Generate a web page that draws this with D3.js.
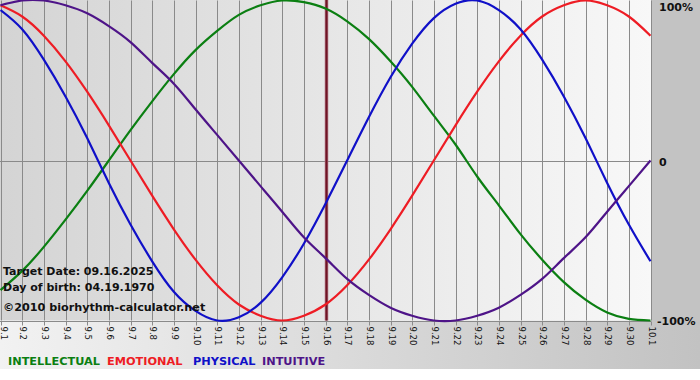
<!DOCTYPE html>
<html><head><meta charset="utf-8">
<script src="https://cdn.jsdelivr.net/npm/d3@7"></script>
<style>html,body{margin:0;padding:0;background:#fff;}svg{display:block;}</style>
</head><body>
<svg id="chart" width="700" height="380"></svg>
<script>
// ---- data ----
const dayLabels = ["9.1","9.2","9.3","9.4","9.5","9.6","9.7","9.8","9.9","9.10","9.11","9.12","9.13","9.14","9.15","9.16","9.17","9.18","9.19","9.20","9.21","9.22","9.23","9.24","9.25","9.26","9.27","9.28","9.29","9.30","10.1"];
const intellectual = [-0.81,-0.69,-0.54,-0.37,-0.19,0.00,0.19,0.37,0.54,0.69,0.81,0.91,0.97,1.00,0.99,0.95,0.87,0.76,0.62,0.46,0.28,0.10,-0.10,-0.28,-0.46,-0.62,-0.76,-0.87,-0.95,-0.99,-1.00];
const emotional    = [0.97,0.90,0.78,0.62,0.43,0.22,0.00,-0.22,-0.43,-0.62,-0.78,-0.90,-0.97,-1.00,-0.97,-0.90,-0.78,-0.62,-0.43,-0.22,0.00,0.22,0.43,0.62,0.78,0.90,0.97,1.00,0.97,0.90,0.78];
const physical     = [0.94,0.82,0.63,0.40,0.14,-0.14,-0.40,-0.63,-0.82,-0.94,-1.00,-0.98,-0.89,-0.73,-0.52,-0.27,0.00,0.27,0.52,0.73,0.89,0.98,1.00,0.94,0.82,0.63,0.40,0.14,-0.14,-0.40,-0.63];
const intuitive    = [0.97,1.00,1.00,0.97,0.92,0.84,0.74,0.61,0.48,0.32,0.16,0.00,-0.16,-0.32,-0.48,-0.61,-0.74,-0.84,-0.92,-0.97,-1.00,-1.00,-0.97,-0.92,-0.84,-0.74,-0.61,-0.48,-0.32,-0.16,0.00];
const yTickValues = [1, 0, -1];
const yTickLabels = ["100%", "0", "-100%"];
const targetDay = "9.16";
const infoLines = ["Target Date: 09.16.2025", "Day of birth: 04.19.1970"];
const copyright = "©2010 biorhythm-calculator.net";
const seriesNames = ["INTELLECTUAL", "EMOTIONAL", "PHYSICAL", "INTUITIVE"];

// ---- drawing ----
const colors = ["#0b7f12", "#ee1c24", "#1010c8", "#4e1488"];
const seriesData = [intellectual, emotional, physical, intuitive];

const svg = d3.select("#chart");
const W = 700, H = 380;
const plot = {left: 0.5, right: 650.5, top: 0.5, bottom: 320.5};

const defs = svg.append("defs");
const g1 = defs.append("linearGradient").attr("id","plotBg").attr("x1","0").attr("x2","1").attr("y1","0").attr("y2","0");
g1.append("stop").attr("offset","0").attr("stop-color","#d4d4d4");
g1.append("stop").attr("offset","1").attr("stop-color","#f8f8f8");
const g2 = defs.append("linearGradient").attr("id","bandBg").attr("x1","0").attr("x2","1").attr("y1","0").attr("y2","0");
g2.append("stop").attr("offset","0").attr("stop-color","#f2f2f2");
g2.append("stop").attr("offset","1").attr("stop-color","#c2c2c2");

svg.append("rect").attr("x",0).attr("y",0).attr("width",W).attr("height",H).attr("fill","#ffffff");
svg.append("rect").attr("x",0).attr("y",plot.bottom).attr("width",W).attr("height",369-plot.bottom).attr("fill","url(#bandBg)");
svg.append("rect").attr("x",651).attr("y",0).attr("width",W-651).attr("height",plot.bottom+1).attr("fill","#c3c3c3");
svg.append("rect").attr("x",0).attr("y",0).attr("width",651).attr("height",plot.bottom).attr("fill","url(#plotBg)");

const x = d3.scalePoint().domain(dayLabels).range([plot.left, plot.right]);
const y = d3.scaleLinear().domain([-1, 1]).range([plot.bottom, plot.top]);

// vertical grid
svg.append("g").selectAll("line").data(dayLabels).join("line")
  .attr("x1", d => Math.round(x(d)) + 0.5).attr("x2", d => Math.round(x(d)) + 0.5)
  .attr("y1", plot.top).attr("y2", plot.bottom)
  .attr("stroke", "#8a8a8a").attr("stroke-width", 1);
// zero line
svg.append("line").attr("x1", 0).attr("x2", 651).attr("y1", Math.round(y(0)) + 0.5).attr("y2", Math.round(y(0)) + 0.5)
  .attr("stroke", "#8a8a8a");

// x axis
const xAxis = d3.axisBottom(x).tickSize(4).tickPadding(0);
const gx = svg.append("g").attr("transform", `translate(0,${Math.round(plot.bottom)+0.5})`).call(xAxis);
gx.select(".domain").attr("stroke", "#8a8a8a").attr("d", `M0,0H651`);
gx.selectAll(".tick line").attr("stroke", "#8a8a8a");
gx.selectAll(".tick").attr("transform", d => `translate(${Math.max(3, Math.round(x(d))) + 0.5},0)`);
gx.selectAll(".tick line").attr("x1", (d) => Math.round(x(d)) + 0.5 - (Math.max(3, Math.round(x(d))) + 0.5))
  .attr("x2", (d) => Math.round(x(d)) + 0.5 - (Math.max(3, Math.round(x(d))) + 0.5));
gx.selectAll(".tick text")
  .attr("font-family", "Verdana, 'DejaVu Sans', sans-serif")
  .attr("font-size", "8.5px")
  .attr("fill", "#111")
  .attr("text-anchor", "start")
  .attr("dominant-baseline", "middle")
  .attr("dy", null)
  .attr("y", 0)
  .attr("transform", "translate(0,5) rotate(90)");

// y axis labels on right
const yAxis = d3.axisRight(y).tickValues(yTickValues).tickFormat((d,i) => yTickLabels[i]).tickSize(0).tickPadding(0);
const gy = svg.append("g").attr("transform", `translate(657,0)`).call(yAxis);
gy.select(".domain").remove();
gy.selectAll(".tick text")
  .attr("font-family", "Verdana, 'DejaVu Sans', sans-serif")
  .attr("font-weight", "bold")
  .attr("font-size", "11px")
  .attr("fill", "#111")
  .attr("x", (d) => d === -1 ? 0 : 2)
  .attr("dy", "0.35em");
gy.selectAll(".tick").filter(d => d === 1).attr("transform", `translate(0,${y(1)+7})`);
gy.selectAll(".tick").filter(d => d === 0).attr("transform", `translate(0,${y(0)+2})`);
gy.selectAll(".tick").filter(d => d === -1).attr("transform", `translate(0,${y(-1)+1})`);

// target marker line
const tx = Math.round(x(targetDay)) + 0.5;
svg.append("line").attr("x1", tx).attr("x2", tx).attr("y1", 0).attr("y2", plot.bottom)
  .attr("stroke", "#b07080").attr("stroke-width", 3.5);
svg.append("line").attr("x1", tx).attr("x2", tx).attr("y1", 0).attr("y2", plot.bottom)
  .attr("stroke", "#6e1424").attr("stroke-width", 2);

// curves
const line = d3.line().x((d,i) => x(dayLabels[i])).y(d => y(d)).curve(d3.curveNatural);
svg.append("g").selectAll("path").data(seriesData).join("path")
  .attr("d", d => line(d))
  .attr("fill", "none")
  .attr("stroke", (d,i) => colors[i])
  .attr("stroke-width", 2.2);

// info text
const info = svg.append("g").attr("font-family", "Verdana, 'DejaVu Sans', sans-serif").attr("font-weight","bold").attr("fill","#111");
info.selectAll("text.info").data(infoLines).join("text").attr("class","info")
  .attr("x", 3).attr("y", (d,i) => 275 + i*16).attr("font-size","11px").text(d => d);
info.append("text").attr("x", 3).attr("y", 311).attr("font-size","11.2px").text(copyright);

// legend
const legX = [8, 107, 193, 262];
svg.append("g").selectAll("text").data(seriesNames).join("text")
  .attr("x", (d,i) => legX[i]).attr("y", 365)
  .attr("font-family", "Verdana, 'DejaVu Sans', sans-serif")
  .attr("font-weight", "bold").attr("font-size", "11.3px")
  .attr("fill", (d,i) => colors[i])
  .text(d => d);
</script>
</body></html>
